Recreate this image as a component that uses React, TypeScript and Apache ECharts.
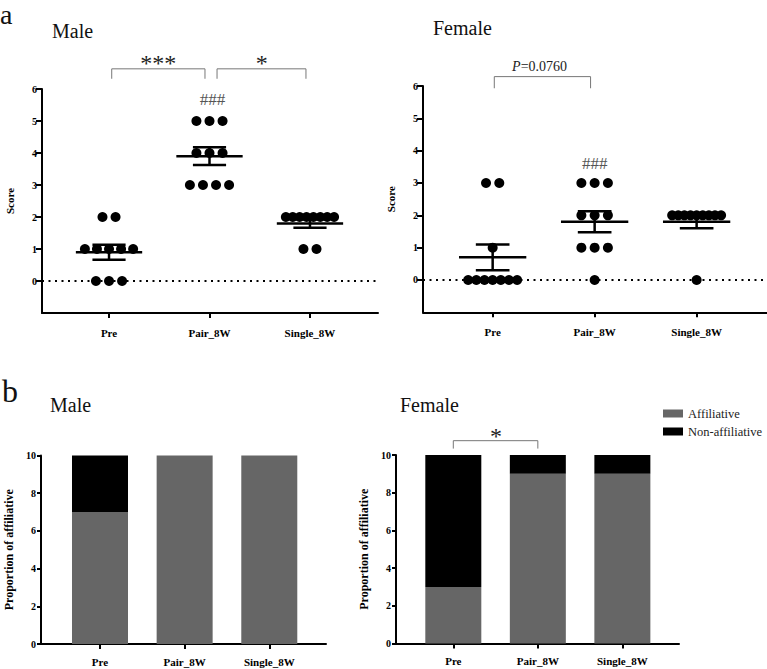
import React, { useEffect, useRef } from "react";
import * as echarts from "echarts";

// ---------- data ----------
const groups = ["Pre", "Pair_8W", "Single_8W"];
const malePre = [0, 0, 0, 1, 1, 1, 1, 1, 2, 2];
const malePair = [3, 3, 3, 3, 4, 4, 4, 5, 5, 5];
const maleSingle = [1, 1, 2, 2, 2, 2, 2, 2, 2, 2];
const femalePre = [0, 0, 0, 0, 0, 0, 0, 1, 3, 3];
const femalePair = [0, 1, 1, 1, 2, 2, 2, 3, 3, 3];
const femaleSingle = [0, 2, 2, 2, 2, 2, 2, 2, 2, 2];
const scoreTicks = [0, 1, 2, 3, 4, 5, 6];
const maleAffiliative = [7, 10, 10];
const maleNonAffiliative = [3, 0, 0];
const femaleAffiliative = [3, 9, 9];
const femaleNonAffiliative = [7, 1, 1];
const maleSigLabels = ["***", "*"];
const femaleScoreSigLabel = "{i|P}=0.0760";
const femaleBarSigLabel = "*";
const hashLabel = "###";

// ---------- helpers ----------
const SERIF = "Liberation Serif";

function swarm(values: number[], g: number) {
  const counts: Record<number, number> = {};
  values.forEach((v) => (counts[v] = (counts[v] || 0) + 1));
  const seen: Record<number, number> = {};
  return values.map((v) => {
    const k = counts[v];
    const i = (seen[v] = (seen[v] ?? -1) + 1);
    const step = k > 1 ? Math.min(0.13, 0.48 / (k - 1)) : 0;
    return [g + (i - (k - 1) / 2) * step, v];
  });
}

function stats(values: number[], g: number) {
  const n = values.length;
  const m = values.reduce((a, b) => a + b, 0) / n;
  const v = values.reduce((a, b) => a + (b - m) * (b - m), 0) / (n - 1);
  return [g, m, Math.sqrt(v / n)];
}

const groupIdx = groups.map((_, i) => i);

const axisFont = { fontFamily: SERIF, fontWeight: "bold" as const, color: "#000" };

function xAxisDef(idx: number, min: number, max: number, margin: number) {
  return {
    type: "value",
    gridIndex: idx,
    min,
    max,
    splitLine: { show: false },
    axisLine: { onZero: false, lineStyle: { color: "#000", width: 2 } },
    axisTick: { customValues: groupIdx, length: 5, lineStyle: { color: "#000", width: 2 } },
    axisLabel: {
      customValues: groupIdx,
      formatter: (v: number) => groups[Math.round(v)] ?? "",
      margin,
      fontSize: 11,
      ...axisFont,
    },
  };
}

function scoreYAxis(idx: number) {
  return {
    type: "value",
    gridIndex: idx,
    min: -1,
    max: 6,
    name: "Score",
    nameLocation: "middle",
    nameGap: 27,
    nameTextStyle: { fontSize: 11, ...axisFont },
    splitLine: { show: false },
    axisLine: { show: true, onZero: false, lineStyle: { color: "#000", width: 2 } },
    axisTick: { show: true, customValues: scoreTicks, length: 6, lineStyle: { color: "#000", width: 2 } },
    axisLabel: { customValues: scoreTicks, margin: 5, fontSize: 10, ...axisFont },
  };
}

function barYAxis(idx: number, gap: number) {
  return {
    type: "value",
    gridIndex: idx,
    min: 0,
    max: 10,
    interval: 2,
    name: "Proportion of affiliative",
    nameLocation: "middle",
    nameGap: gap,
    nameTextStyle: { fontSize: 12, ...axisFont },
    splitLine: { show: false },
    axisLine: { show: true, onZero: false, lineStyle: { color: "#000", width: 2 } },
    axisTick: { show: true, length: 4, lineStyle: { color: "#000", width: 2 } },
    axisLabel: { margin: 5, fontSize: 10, ...axisFont },
  };
}

function scatterSeries(idx: number, sets: number[][]) {
  const pts = sets.flatMap((vals, g) => swarm(vals, g));
  return [
    {
      type: "scatter",
      xAxisIndex: idx,
      yAxisIndex: idx,
      data: pts,
      symbol: "circle",
      symbolSize: 10,
      itemStyle: { color: "#000", opacity: 1 },
      z: 3,
      markLine: {
        silent: true,
        symbol: ["none", "none"],
        label: { show: false },
        lineStyle: { type: [2, 4.5], width: 2, color: "#000", opacity: 1 },
        data: [{ yAxis: 0 }],
      },
    },
    {
      type: "custom",
      xAxisIndex: idx,
      yAxisIndex: idx,
      z: 4,
      data: sets.map((vals, g) => stats(vals, g)),
      encode: { x: 0, y: 1 },
      renderItem: (_p: any, api: any) => {
        const g = api.value(0);
        const m = api.value(1);
        const s = api.value(2);
        const c = (x: number, y: number) => api.coord([x, y]);
        const segs = [
          [c(g - 0.33, m), c(g + 0.33, m)],
          [c(g, m - s), c(g, m + s)],
          [c(g - 0.165, m + s), c(g + 0.165, m + s)],
          [c(g - 0.165, m - s), c(g + 0.165, m - s)],
        ];
        return {
          type: "group",
          children: segs.map(([a, b]) => ({
            type: "line",
            shape: { x1: a[0], y1: a[1], x2: b[0], y2: b[1] },
            style: { stroke: "#000", lineWidth: 2.5 },
          })),
        };
      },
    },
  ];
}

function bracketSeries(idx: number, brackets: number[][]) {
  return {
    type: "custom",
    xAxisIndex: idx,
    yAxisIndex: idx,
    data: brackets,
    encode: { x: 0, y: 2 },
    renderItem: (_p: any, api: any) => {
      const x1 = api.value(0), x2 = api.value(1), top = api.value(2), leg = api.value(3);
      const pts = [
        api.coord([x1, leg]),
        api.coord([x1, top]),
        api.coord([x2, top]),
        api.coord([x2, leg]),
      ];
      return {
        type: "polyline",
        shape: { points: pts },
        style: { stroke: "#777", lineWidth: 1, fill: "none" },
      };
    },
  };
}

function textSeries(idx: number, items: { x: number; y: number; text: string; size: number; color: string }[]) {
  return {
    type: "custom",
    xAxisIndex: idx,
    yAxisIndex: idx,
    data: items.map((it, i) => [it.x, it.y, i]),
    encode: { x: 0, y: 1 },
    renderItem: (p: any, api: any) => {
      const it = items[p.dataIndex];
      const pt = api.coord([api.value(0), api.value(1)]);
      return {
        type: "text",
        x: pt[0],
        y: pt[1],
        style: {
          text: it.text,
          fill: it.color,
          fontSize: it.size,
          fontFamily: SERIF,
          textAlign: "center",
          textVerticalAlign: "middle",
          align: "center",
          verticalAlign: "middle",
          rich: { i: { fontStyle: "italic", fontSize: it.size, fontFamily: SERIF, fill: it.color } },
        },
      };
    },
  };
}

function barSeries(idx: number, aff: number[], non: number[]) {
  const stack = "s" + idx;
  return [
    {
      type: "bar",
      name: "Affiliative",
      xAxisIndex: idx,
      yAxisIndex: idx,
      stack,
      barWidth: 56,
      itemStyle: { color: "#666666" },
      encode: { x: 1, y: 0 },
      data: aff.map((v, g) => [v, g]),
    },
    {
      type: "bar",
      name: "Non-affiliative",
      xAxisIndex: idx,
      yAxisIndex: idx,
      stack,
      barWidth: 56,
      itemStyle: { color: "#000000" },
      encode: { x: 1, y: 0 },
      data: non.map((v, g) => [v, g]),
    },
  ];
}

function titleText(text: string, x: number, y: number, size: number) {
  return {
    type: "text",
    x,
    y,
    style: {
      text,
      fontSize: size,
      fontFamily: SERIF,
      fill: "#111",
      textVerticalAlign: "middle",
      verticalAlign: "middle",
    },
  };
}

export default function App() {
  const ref = useRef<HTMLDivElement>(null);

  useEffect(() => {
    if (!ref.current) return;
    const chart = echarts.init(ref.current, undefined, { renderer: "svg" });

    const option = {
      animation: false,
      backgroundColor: "#fff",
      grid: [
        { left: 42, top: 89, width: 336, height: 224 },
        { left: 423, top: 86, width: 344, height: 226.3 },
        { left: 41, top: 455.5, width: 285, height: 188.5 },
        { left: 396, top: 455, width: 283, height: 188.5 },
      ],
      xAxis: [
        xAxisDef(0, -0.667, 2.677, 14),
        xAxisDef(1, -0.683, 2.69, 14),
        xAxisDef(2, -0.697, 2.67, 12),
        xAxisDef(3, -0.678, 2.67, 12),
      ],
      yAxis: [scoreYAxis(0), scoreYAxis(1), barYAxis(2, 26), barYAxis(3, 26)],
      legend: {
        data: ["Affiliative", "Non-affiliative"],
        orient: "vertical",
        left: 658,
        top: 402,
        itemWidth: 20,
        itemHeight: 8,
        itemGap: 5,
        icon: "rect",
        selectedMode: false,
        textStyle: { fontFamily: SERIF, fontSize: 12.5, color: "#222" },
      },
      graphic: [
        titleText("a", 0, 14, 28),
        titleText("Male", 52, 31, 20),
        titleText("Female", 433, 28, 20),
        titleText("b", 2, 391, 32),
        titleText("Male", 50, 405, 20),
        titleText("Female", 400, 405, 20),
      ],
      series: [
        ...scatterSeries(0, [malePre, malePair, maleSingle]),
        ...scatterSeries(1, [femalePre, femalePair, femaleSingle]),
        ...barSeries(2, maleAffiliative, maleNonAffiliative),
        ...barSeries(3, femaleAffiliative, femaleNonAffiliative),
        bracketSeries(0, [
          [0.027, 0.955, 6.63, 6.32],
          [1.075, 1.96, 6.63, 6.32],
        ]),
        bracketSeries(1, [[0.016, 0.96, 6.29, 5.93]]),
        bracketSeries(3, [[0, 1, 10.76, 10.34]]),
        textSeries(0, [
          { x: 0.49, y: 6.81, text: maleSigLabels[0], size: 24, color: "#222" },
          { x: 1.52, y: 6.81, text: maleSigLabels[1], size: 24, color: "#222" },
          { x: 1.03, y: 5.66, text: hashLabel, size: 17, color: "#555" },
        ]),
        textSeries(1, [
          { x: 0.46, y: 6.6, text: femaleScoreSigLabel, size: 14, color: "#222" },
          { x: 1.0, y: 3.61, text: hashLabel, size: 17, color: "#555" },
        ]),
        textSeries(3, [{ x: 0.505, y: 11.03, text: femaleBarSigLabel, size: 24, color: "#222" }]),
      ],
    };

    chart.setOption(option as any);
    return () => chart.dispose();
  }, []);

  return (
    <div
      ref={ref}
      style={{ position: "absolute", left: 0, top: 0, width: 767, height: 669 }}
    />
  );
}
